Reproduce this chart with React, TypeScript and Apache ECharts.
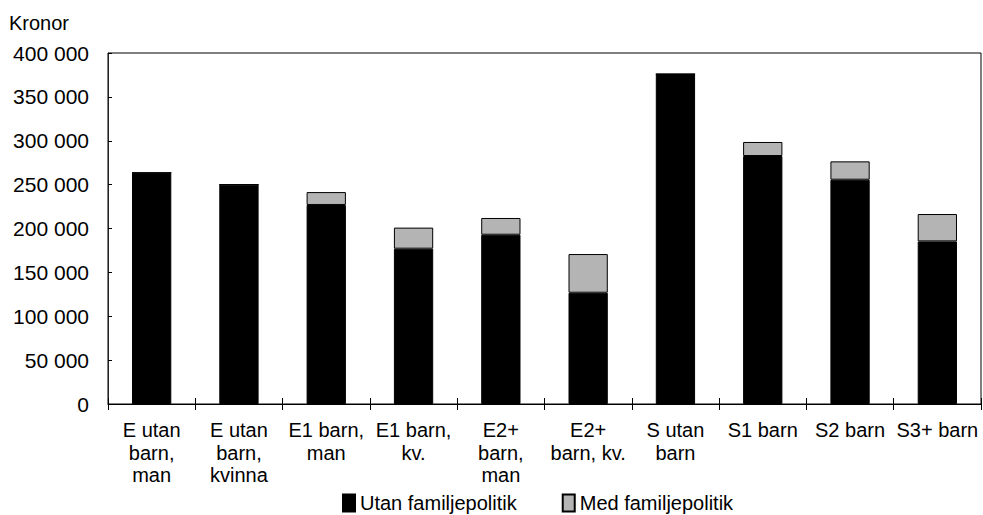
import React, { useEffect, useRef } from "react";
import * as echarts from "echarts";

const categories = [
  "E utan\nbarn,\nman",
  "E utan\nbarn,\nkvinna",
  "E1 barn,\nman",
  "E1 barn,\nkv.",
  "E2+\nbarn,\nman",
  "E2+\nbarn, kv.",
  "S utan\nbarn",
  "S1 barn",
  "S2 barn",
  "S3+ barn",
];
const utanFamiljepolitik = [263500, 250000, 226800, 177000, 192900, 126800, 376000, 282600, 255600, 185300];
const medFamiljepolitik = [0, 0, 14700, 24000, 19100, 44100, 0, 16000, 20900, 31200];
const seriesNames = ["Utan familjepolitik", "Med familjepolitik"];
const yTitle = "Kronor";

const fmt = (v: number) => String(v).replace(/\B(?=(\d{3})+(?!\d))/g, " ");

export default function App() {
  const ref = useRef<HTMLDivElement>(null);
  useEffect(() => {
    if (!ref.current) return;
    const chart = echarts.init(ref.current, null, { renderer: "svg" });
    const font = "Liberation Sans, Arial, sans-serif";
    chart.setOption({
      animation: false,
      backgroundColor: "#fff",
      textStyle: { fontFamily: font, color: "#000" },
      grid: {
        left: 108,
        right: 2,
        top: 53,
        bottom: 111,
        show: true,
        borderColor: "#000",
        borderWidth: 1,
      },
      graphic: [
        {
          type: "text",
          left: 9,
          top: 13,
          style: { text: yTitle, fontSize: 20, fontFamily: font, fill: "#000" },
        },
      ],
      legend: {
        left: 342,
        top: 493,
        padding: 0,
        itemWidth: 12,
        itemHeight: 17,
        itemGap: 45,
        icon: "rect",
        textStyle: { fontSize: 20, fontFamily: font, color: "#000" },
        data: seriesNames,
      },
      xAxis: [
        {
          type: "category",
          data: categories,
          axisLine: { lineStyle: { color: "#000", width: 1 } },
          axisTick: { show: true, inside: false, length: 6, lineStyle: { color: "#000" } },
          axisLabel: {
            fontSize: 20,
            fontFamily: font,
            color: "#000",
            margin: 15,
            lineHeight: 22.5,
            interval: 0,
          },
        },
        {
          type: "category",
          data: categories,
          position: "bottom",
          axisLine: { show: false },
          axisTick: { show: true, inside: true, length: 6, lineStyle: { color: "#000" } },
          axisLabel: { show: false },
        },
      ],
      yAxis: {
        type: "value",
        min: 0,
        max: 400000,
        interval: 50000,
        axisLine: { show: true, lineStyle: { color: "#222", width: 1 } },
        axisTick: { show: true, inside: true, length: 4, lineStyle: { color: "#000" } },
        splitLine: { show: false },
        axisLabel: {
          fontSize: 21,
          fontFamily: font,
          color: "#000",
          margin: 19,
          formatter: (v: number) => fmt(v),
        },
      },
      series: [
        {
          name: seriesNames[0],
          type: "bar",
          stack: "total",
          barWidth: "45%",
          data: utanFamiljepolitik,
          itemStyle: { color: "#000", borderColor: "#000", borderWidth: 1 },
        },
        {
          name: seriesNames[1],
          type: "bar",
          stack: "total",
          barWidth: "45%",
          data: medFamiljepolitik,
          itemStyle: { color: "#b4b4b4", borderColor: "#000", borderWidth: 1 },
        },
      ],
    });
    return () => chart.dispose();
  }, []);
  return <div ref={ref} style={{ width: 983, height: 515, position: "absolute", left: 0, top: 0 }} />;
}
